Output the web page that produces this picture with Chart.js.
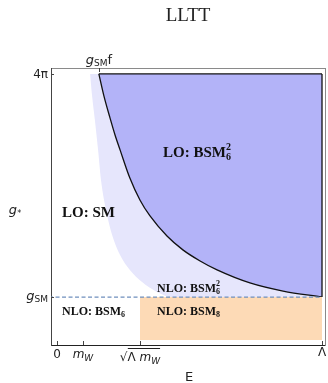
<!DOCTYPE html>
<html lang="en">
<head>
	<meta charset="UTF-8">
	<title>LLTT</title>
	<style>
		html, body { margin: 0; padding: 0; background: #fff; }
		#wrap { width: 328px; height: 383px; }
	</style>
</head>
<body>
	<div id="wrap">
		<canvas id="chart" width="328" height="383"></canvas>
	</div>

	<script src="https://cdn.jsdelivr.net/npm/chart.js"></script>
	<script>
		// energy axis: Lambda = 1 ; coupling axis: 4pi = 1
		const xTickValues = [0, 0.098, 0.313, 1];      // 0, m_W, sqrt(Lambda m_W), Lambda
		const yTickValues = [0.177, 1];                 // g_SM, 4pi
		const topTickValue = 0.158;                     // g_SM f
		const gSM = 0.177;
		const sqrtLmW = 0.313;

		// black curve (lower edge of LO: BSM6^2)
		const cutE = [0.158, 0.177, 0.200, 0.219, 0.238, 0.275, 0.313, 0.351, 0.415, 0.475, 0.540, 0.604, 0.728, 0.853, 1.0];
		const cutG = [1.000, 0.919, 0.838, 0.775, 0.720, 0.616, 0.535, 0.476, 0.402, 0.351, 0.310, 0.277, 0.229, 0.199, 0.177];

		// light region edge (LO: SM / NLO: BSM6^2 border)
		const smE = [0.125, 0.132, 0.143, 0.155, 0.166, 0.185, 0.208, 0.238, 0.275, 0.321, 0.377, 0.434, 1.0];
		const smG = [1.000, 0.923, 0.830, 0.720, 0.609, 0.498, 0.406, 0.332, 0.277, 0.232, 0.196, 0.177, 0.177];

		const pts = (xs, ys) => xs.map((v, i) => ({ x: v, y: ys[i] }));

		// little helper to draw text with sub/superscripts
		function rich(ctx, parts, x, y, align) {
			let w = 0;
			parts.forEach(p => { ctx.font = p.f; p.w = p.stack ? 0 : ctx.measureText(p.t).width; w += p.w; });
			let cx = align === 'right' ? x - w : align === 'center' ? x - w / 2 : x;
			let last = cx;
			parts.forEach(p => {
				ctx.font = p.f;
				const px = p.stack ? last : cx;
				ctx.fillText(p.t, px, y + (p.dy || 0));
				if (!p.stack) { last = cx; cx += p.w; }
			});
			return { left: x - (align === 'right' ? w : align === 'center' ? w / 2 : 0), width: w };
		}

		const decor = {
			id: 'decor',
			afterDraw(chart) {
				const { ctx, scales: { x, y } } = chart;
				const sans = '"DejaVu Sans", sans-serif';
				const serif = '"Liberation Serif", "Times New Roman", serif';
				ctx.save();
				ctx.fillStyle = '#222';
				ctx.textBaseline = 'alphabetic';

				// tick marks
				ctx.strokeStyle = '#444';
				ctx.lineWidth = 1;
				const bot = chart.chartArea.bottom, left = chart.chartArea.left, top = chart.chartArea.top;
				ctx.beginPath();
				xTickValues.forEach(v => { const p = Math.round(x.getPixelForValue(v)) + 0.5; ctx.moveTo(p, bot); ctx.lineTo(p, bot - 4); });
				yTickValues.forEach(v => { const p = Math.round(y.getPixelForValue(v)) + 0.5; ctx.moveTo(left, p); ctx.lineTo(left + 3, p); });
				const tp = Math.round(x.getPixelForValue(topTickValue)) + 0.5;
				ctx.moveTo(tp, top); ctx.lineTo(tp, top + 4);
				ctx.stroke();

				// x tick labels
				const ly = bot + 13;
				ctx.textAlign = 'left';
				rich(ctx, [{ t: '0', f: '12px ' + sans }], x.getPixelForValue(0), ly, 'center');
				rich(ctx, [{ t: 'm', f: 'italic 12px ' + sans }, { t: 'W', f: 'italic 9px ' + sans, dy: 3 }], x.getPixelForValue(xTickValues[1]), ly, 'center');
				const sq = rich(ctx, [{ t: '\u221A', f: '12px ' + sans }, { t: '\u039B ', f: '12px ' + sans }, { t: 'm', f: 'italic 12px ' + sans }, { t: 'W', f: 'italic 9px ' + sans, dy: 3 }], x.getPixelForValue(sqrtLmW), ly + 3, 'center');
				ctx.beginPath();
				ctx.moveTo(sq.left + 8, ly - 9.5); ctx.lineTo(sq.left + sq.width, ly - 9.5);
				ctx.strokeStyle = '#222'; ctx.stroke();
				rich(ctx, [{ t: '\u039B', f: '12px ' + sans }], x.getPixelForValue(1), ly - 2, 'center');

				// y tick labels
				rich(ctx, [{ t: 'g', f: 'italic 13px ' + sans }, { t: 'SM', f: '9px ' + sans, dy: 2 }], left - 3, y.getPixelForValue(gSM) + 3, 'right');
				rich(ctx, [{ t: '4\u03C0', f: '12px ' + sans }], left - 3, y.getPixelForValue(1) + 4, 'right');

				// top tick label
				rich(ctx, [{ t: 'g', f: 'italic 13px ' + sans }, { t: 'SM', f: '9px ' + sans, dy: 2 }, { t: 'f', f: '13px ' + sans }], x.getPixelForValue(topTickValue), top - 4, 'center');

				// axis titles
				rich(ctx, [{ t: 'g', f: 'italic 13px ' + sans }, { t: '*', f: '8px ' + sans, dy: 2 }], 15, 214, 'center');
				rich(ctx, [{ t: 'E', f: '13px ' + sans }], 189, 381, 'center');

				// title
				rich(ctx, [{ t: 'LLTT', f: '19px ' + serif }], 188, 21, 'center');

				// region labels
				ctx.fillStyle = '#111';
				const b15 = 'bold 15px ' + serif, b10 = 'bold 10px ' + serif;
				const b12 = 'bold 12px ' + serif, b8 = 'bold 8px ' + serif;
				rich(ctx, [{ t: 'LO: BSM', f: b15 }, { t: '6', f: b10, dy: 3 }, { t: '2', f: b10, dy: -7, stack: true }], 163, 157, 'left');
				rich(ctx, [{ t: 'LO: SM', f: b15 }], 62, 217, 'left');
				rich(ctx, [{ t: 'NLO: BSM', f: b12 }, { t: '6', f: b8, dy: 2 }, { t: '2', f: b8, dy: -6, stack: true }], 157, 292, 'left');
				rich(ctx, [{ t: 'NLO: BSM', f: b12 }, { t: '8', f: b8, dy: 2 }], 157, 315, 'left');
				rich(ctx, [{ t: 'NLO: BSM', f: b12 }, { t: '6', f: b8, dy: 2 }], 62, 315, 'left');
				ctx.restore();
			}
		};

		const ctx = document.getElementById('chart').getContext('2d');
		new Chart(ctx, {
			type: 'line',
			data: {
				datasets: [
					{ // light lavender region
						data: pts(smE, smG), borderWidth: 0, pointRadius: 0,
						cubicInterpolationMode: 'monotone',
						backgroundColor: '#e6e6fc', fill: { value: 1 }, order: 6
					},
					{ // dark region with black edge
						data: pts(cutE, cutG), borderWidth: 1.3, borderColor: '#111', pointRadius: 0,
						cubicInterpolationMode: 'monotone',
						backgroundColor: '#b3b3f8', fill: { value: 1 }, order: 5
					},
					{ // orange block
						data: [{ x: sqrtLmW, y: gSM }, { x: 1, y: gSM }], borderWidth: 0, pointRadius: 0,
						backgroundColor: '#fddab6', fill: { value: 0.018 }, order: 4
					},
					{ // g_SM dashed
						data: [{ x: -0.03, y: gSM }, { x: 1, y: gSM }], borderWidth: 1.2, borderColor: '#6f8fbd',
						borderDash: [4, 2.5], pointRadius: 0, fill: false, order: 3
					},
					{ // top edge
						data: [{ x: topTickValue, y: 1 }, { x: 1, y: 1 }], borderWidth: 1.3, borderColor: '#111',
						pointRadius: 0, fill: false, order: 1
					},
					{ // right edge
						data: [{ x: 1, y: gSM }, { x: 1, y: 1 }], borderWidth: 1.3, borderColor: '#111',
						pointRadius: 0, fill: false, order: 1
					}
				]
			},
			options: {
				responsive: false,
				animation: false,
				layout: { padding: 0 },
				plugins: { legend: { display: false }, tooltip: { enabled: false }, title: { display: false } },
				scales: {
					x: {
						type: 'linear', position: 'bottom', min: -0.0226, max: 1.0113,
						grid: { display: false }, ticks: { display: false },
						border: { color: '#222', width: 1 },
						afterFit: s => { s.height = 38; }
					},
					xTop: {
						type: 'linear', position: 'top', min: -0.0226, max: 1.0113,
						grid: { display: false }, ticks: { display: false },
						border: { color: '#8a8a8a', width: 1 },
						afterFit: s => { s.height = 68; }
					},
					y: {
						type: 'linear', position: 'left', min: 0, max: 1.022,
						grid: { display: false }, ticks: { display: false },
						border: { color: '#444', width: 1 },
						afterFit: s => { s.width = 51; }
					},
					yRight: {
						type: 'linear', position: 'right', min: 0, max: 1.022,
						grid: { display: false }, ticks: { display: false },
						border: { color: '#8a8a8a', width: 1 },
						afterFit: s => { s.width = 3; }
					}
				}
			},
			plugins: [decor]
		});
	</script>
</body>
</html>
